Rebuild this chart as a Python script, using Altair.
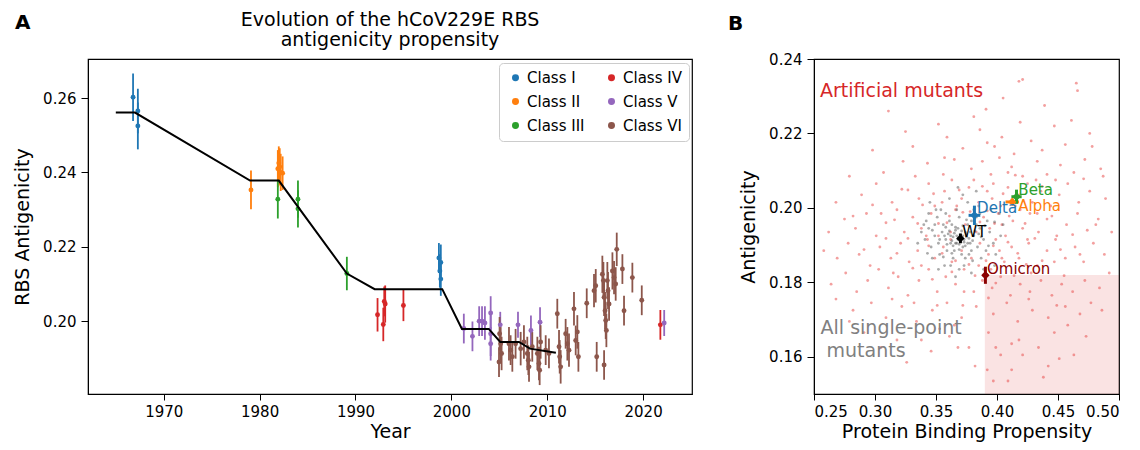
import altair as alt
import pandas as pd

FONT = "DejaVu Sans"

# ---------------- Panel A: antigenicity over time ----------------
class_names = ["Class I", "Class II", "Class III", "Class IV", "Class V", "Class VI"]
class_colors = ["#1f77b4", "#ff7f0e", "#2ca02c", "#d62728", "#9467bd", "#8c564b"]

c1_year = [1966.8, 1967.3, 1967.3, 1998.7, 1998.9, 1998.8, 1998.9]
c1_val = [0.2602, 0.2565, 0.2525, 0.2170, 0.2158, 0.2135, 0.2113]
c1_err = [0.0064, 0.0060, 0.0063, 0.0040, 0.0048, 0.0045, 0.0045]

c2_year = [1979.1, 1981.9, 1982.0, 1982.1, 1982.2, 1982.4]
c2_val = [0.2353, 0.2410, 0.2425, 0.2415, 0.2400, 0.2398]
c2_err = [0.0052, 0.0050, 0.0045, 0.0050, 0.0050, 0.0045]

c3_year = [1981.9, 1984.0, 1984.0, 1989.1]
c3_val = [0.2328, 0.2328, 0.2302, 0.2128]
c3_err = [0.0052, 0.0050, 0.0050, 0.0045]

c4_year = [1992.3, 1992.9, 1993.1, 1993.0, 1995.0, 2021.8]
c4_val = [0.2017, 0.1991, 0.2046, 0.2053, 0.2042, 0.1990]
c4_err = [0.0045, 0.0045, 0.0050, 0.0040, 0.0042, 0.0040]

c5_year = [2001.3, 2002.2, 2002.9, 2003.2, 2003.5, 2004.1, 2004.1, 2004.1,
           2005.1, 2006.95, 2008.3, 2009.25, 2022.2]
c5_val = [0.1980, 0.1959, 0.2000, 0.2000, 0.1995, 0.2022, 0.1966, 0.1939,
          0.1990, 0.1990, 0.1975, 0.1997, 0.1995]
c5_err = [0.0040, 0.0040, 0.0040, 0.0040, 0.0045, 0.0045, 0.0060, 0.0045,
          0.0035, 0.0035, 0.0040, 0.0040, 0.0035]

c6_year = [2005.03, 2005.14, 2005.24, 2004.97, 2006.01, 2006.18, 2006.36, 2006.7,
           2007.23, 2007.57, 2007.92, 2008.03, 2008.1, 2008.44, 2008.97, 2009.14,
           2009.21, 2009.31, 2009.84, 2010.18, 2011.05, 2011.23, 2011.3, 2011.4,
           2011.92, 2012.1, 2012.27, 2012.79, 2012.97, 2013.14, 2013.25, 2014.12,
           2014.88, 2015.06, 2015.16, 2015.75, 2015.86, 2015.93, 2016.03, 2016.1,
           2016.17, 2015.93, 2016.27, 2016.34, 2016.45, 2016.8, 2016.97, 2017.14,
           2017.25, 2017.84, 2018.01, 2018.88, 2019.86]
c6_val = [0.1966, 0.1939, 0.1913, 0.1890, 0.1939, 0.1922, 0.1904, 0.1939,
          0.1926, 0.1944, 0.1913, 0.1895, 0.1877, 0.1931, 0.1913, 0.1886,
          0.1868, 0.1944, 0.1922, 0.1913, 0.2020, 0.1931, 0.1904, 0.1877,
          0.1966, 0.1939, 0.1922, 0.2033, 0.1948, 0.1971, 0.1904, 0.2048,
          0.2082, 0.2095, 0.1904, 0.2126, 0.2109, 0.2064, 0.2028, 0.2002,
          0.1975, 0.1882, 0.2109, 0.2082, 0.2046, 0.2135, 0.2117, 0.2100,
          0.2193, 0.2140, 0.2028, 0.2117, 0.2056]
c6_err = [0.0045, 0.0045, 0.0045, 0.0040, 0.0045, 0.0040, 0.0040, 0.0040,
          0.0045, 0.0045, 0.0045, 0.0040, 0.0040, 0.0040, 0.0045, 0.0045,
          0.0040, 0.0045, 0.0040, 0.0040, 0.0040, 0.0045, 0.0045, 0.0045,
          0.0040, 0.0045, 0.0045, 0.0045, 0.0040, 0.0045, 0.0040, 0.0040,
          0.0045, 0.0045, 0.0040, 0.0050, 0.0050, 0.0050, 0.0050, 0.0050,
          0.0045, 0.0040, 0.0050, 0.0050, 0.0045, 0.0050, 0.0045, 0.0045,
          0.0045, 0.0040, 0.0040, 0.0040, 0.0040]

line_year = [1965.0, 1967.0, 1979.0, 1982.0, 1989.1, 1992.0, 1999.05, 2001.1,
             2003.9, 2005.1, 2007.05, 2008.2, 2010.9]
line_val = [0.2561, 0.2561, 0.2378, 0.2378, 0.2128, 0.2086, 0.2086, 0.1979,
            0.1979, 0.1944, 0.1944, 0.1926, 0.1915]

year_ticks = [1970, 1980, 1990, 2000, 2010, 2020]
antig_ticks_a = [0.20, 0.22, 0.24, 0.26]
title_a = ["Evolution of the hCoV229E RBS", "antigenicity propensity"]

# ---------------- Panel B: antigenicity vs binding ----------------
red_x = [0.311, 0.418, 0.421, 0.465, 0.466, 0.405, 0.391,
         0.386, 0.404, 0.428, 0.447, 0.476, 0.372, 0.359, 0.437, 0.456, 0.398, 0.419, 0.331,
         0.343, 0.356, 0.365, 0.379, 0.388, 0.395, 0.402, 0.412, 0.421, 0.433, 0.441, 0.452,
         0.463, 0.472, 0.485, 0.307, 0.323, 0.333, 0.414, 0.448,
         0.289, 0.301, 0.314, 0.322, 0.336, 0.344, 0.349, 0.357, 0.363, 0.371, 0.377, 0.385,
         0.392, 0.397, 0.403, 0.409, 0.418, 0.425, 0.429, 0.436, 0.444, 0.451, 0.458, 0.467,
         0.476, 0.489, 0.367, 0.396, 0.415, 0.432, 0.355, 0.381,
         0.262, 0.275, 0.284, 0.293, 0.301, 0.309, 0.318, 0.324, 0.331, 0.338, 0.346, 0.352,
         0.359, 0.366, 0.374, 0.383, 0.389, 0.394, 0.401, 0.407, 0.413, 0.421, 0.427, 0.434,
         0.441, 0.449, 0.457, 0.466, 0.474, 0.483, 0.494, 0.378, 0.404, 0.419, 0.342, 0.362,
         0.258, 0.269, 0.278, 0.287, 0.296, 0.304, 0.313, 0.321, 0.328, 0.335, 0.343, 0.349,
         0.356, 0.363, 0.371, 0.379, 0.386, 0.393, 0.399, 0.406, 0.412, 0.418, 0.426, 0.433,
         0.441, 0.448, 0.456, 0.464, 0.471, 0.479, 0.488, 0.385, 0.402, 0.362, 0.338,
         0.264, 0.276, 0.285, 0.294, 0.303, 0.311, 0.319, 0.327, 0.336, 0.344, 0.351, 0.358,
         0.366, 0.373, 0.381, 0.388, 0.396, 0.403, 0.411, 0.419, 0.427, 0.436, 0.445, 0.453,
         0.462, 0.472, 0.484, 0.395, 0.373,
         0.282, 0.297, 0.309, 0.322, 0.334, 0.347, 0.359, 0.371, 0.383, 0.397, 0.408, 0.417,
         0.429, 0.442, 0.456, 0.468, 0.477, 0.365, 0.426,
         0.318, 0.346, 0.361, 0.377, 0.393, 0.403, 0.418, 0.434, 0.447, 0.463, 0.451, 0.412,
         0.397, 0.412, 0.438, 0.392, 0.409,
         0.352, 0.361, 0.372, 0.386, 0.392, 0.398, 0.410, 0.355, 0.366, 0.377, 0.391, 0.397,
         0.409, 0.417, 0.344, 0.335, 0.327, 0.339, 0.348, 0.369, 0.388, 0.405, 0.423, 0.431,
         0.424, 0.414, 0.399, 0.382, 0.363, 0.347, 0.331, 0.318, 0.309, 0.316, 0.327, 0.415,
         0.437, 0.445, 0.452, 0.437, 0.462, 0.471, 0.455, 0.393, 0.372, 0.351, 0.291, 0.282,
         0.298, 0.449,
         0.268, 0.279, 0.291, 0.305, 0.314, 0.326, 0.338, 0.353, 0.368, 0.382, 0.399, 0.421,
         0.442, 0.458, 0.473, 0.486, 0.492, 0.481, 0.487, 0.478, 0.461, 0.439, 0.381, 0.352,
         0.325, 0.298, 0.279, 0.268, 0.305, 0.315, 0.332, 0.425, 0.433, 0.409, 0.392, 0.357,
         0.404, 0.428, 0.447, 0.468]
red_y = [0.2260, 0.2340, 0.2345, 0.2335, 0.2315, 0.2295, 0.2265,
         0.2210, 0.2190, 0.2180, 0.2220, 0.2200, 0.2160, 0.2190, 0.2155, 0.2170, 0.2165, 0.2230, 0.2165,
         0.2120, 0.2090, 0.2130, 0.2105, 0.2125, 0.2090, 0.2135, 0.2110, 0.2085, 0.2125, 0.2090, 0.2115,
         0.2095, 0.2130, 0.2105, 0.2095, 0.2125, 0.2085, 0.2145, 0.2075,
         0.2035, 0.2065, 0.2015, 0.2050, 0.2025, 0.2065, 0.2005, 0.2045, 0.2075, 0.2025, 0.2055, 0.2015,
         0.2045, 0.2065, 0.2005, 0.2055, 0.2035, 0.2065, 0.2015, 0.2045, 0.2005, 0.2035, 0.2065, 0.2015,
         0.2045, 0.2025, 0.2005, 0.2025, 0.2005, 0.2075, 0.2015, 0.2075,
         0.1935, 0.1970, 0.1945, 0.1985, 0.1925, 0.1960, 0.1995, 0.1935, 0.1975, 0.1945, 0.1985, 0.1925,
         0.1960, 0.1995, 0.1955, 0.1935, 0.1975, 0.1945, 0.1985, 0.1925, 0.1965, 0.1945, 0.1985, 0.1935,
         0.1970, 0.1925, 0.1955, 0.1985, 0.1940, 0.1970, 0.1935, 0.1990, 0.1955, 0.1995, 0.1925, 0.1935,
         0.1885, 0.1865, 0.1905, 0.1875, 0.1845, 0.1895, 0.1865, 0.1905, 0.1855, 0.1885, 0.1915, 0.1865,
         0.1895, 0.1855, 0.1885, 0.1865, 0.1905, 0.1875, 0.1915, 0.1855, 0.1895, 0.1865, 0.1905, 0.1845,
         0.1885, 0.1915, 0.1865, 0.1895, 0.1855, 0.1905, 0.1875, 0.1845, 0.1885, 0.1915, 0.1845,
         0.1795, 0.1825, 0.1775, 0.1805, 0.1835, 0.1785, 0.1815, 0.1765, 0.1805, 0.1835, 0.1775, 0.1815,
         0.1795, 0.1835, 0.1775, 0.1805, 0.1785, 0.1815, 0.1765, 0.1795, 0.1775, 0.1805, 0.1765, 0.1795,
         0.1775, 0.1805, 0.1785, 0.1835, 0.1775,
         0.1725, 0.1745, 0.1705, 0.1735, 0.1695, 0.1725, 0.1745, 0.1705, 0.1735, 0.1715, 0.1745, 0.1695,
         0.1725, 0.1705, 0.1735, 0.1715, 0.1745, 0.1685, 0.1755,
         0.1645, 0.1615, 0.1655, 0.1625, 0.1665, 0.1605, 0.1645, 0.1625, 0.1665, 0.1605, 0.1595, 0.1635,
         0.1535, 0.1565, 0.1545, 0.1565, 0.1535,
         0.1958, 0.1978, 0.1988, 0.1962, 0.1992, 0.1958, 0.1978, 0.1878, 0.1858, 0.1848, 0.1858, 0.1898,
         0.1908, 0.1878, 0.1898, 0.1958, 0.1918, 0.2008, 0.2038, 0.2048, 0.2058, 0.2038, 0.1958, 0.1918,
         0.1848, 0.1818, 0.1798, 0.1818, 0.1828, 0.1808, 0.1838, 0.1878, 0.1918, 0.1968, 0.2048, 0.2088,
         0.2058, 0.1978, 0.1888, 0.1858, 0.1928, 0.2078, 0.1818, 0.1758, 0.1738, 0.1738, 0.1888, 0.1978,
         0.2008, 0.1738,
         0.1755, 0.1695, 0.1665, 0.1625, 0.1755, 0.1585, 0.1645, 0.1675, 0.1625, 0.1575, 0.1625, 0.1605,
         0.1575, 0.1685, 0.1655, 0.1725, 0.1825, 0.1955, 0.2085, 0.2165, 0.2235, 0.2275, 0.2245, 0.2225,
         0.2205, 0.2155, 0.2085, 0.2015, 0.1985, 0.1825, 0.1745, 0.1915, 0.1985, 0.2095, 0.2175, 0.2135,
         0.1865, 0.1825, 0.1855, 0.1875]

gray_x = [0.370, 0.366, 0.374, 0.362, 0.378, 0.368, 0.372, 0.358, 0.381, 0.365, 0.376, 0.363,
          0.384, 0.355, 0.371, 0.379, 0.359, 0.386, 0.352, 0.369, 0.374, 0.361, 0.389, 0.349,
          0.377, 0.364, 0.383, 0.356, 0.391, 0.346, 0.367, 0.373, 0.358, 0.387, 0.353, 0.381,
          0.344, 0.394, 0.362, 0.376, 0.351, 0.397, 0.341, 0.369, 0.385, 0.357, 0.392, 0.347,
          0.372, 0.366, 0.399, 0.338, 0.361, 0.389, 0.354, 0.379, 0.344, 0.395, 0.368, 0.371,
          0.367, 0.373, 0.365, 0.375, 0.363, 0.369, 0.371, 0.377, 0.361, 0.374, 0.366, 0.359,
          0.382, 0.364, 0.372, 0.387, 0.357, 0.379, 0.383, 0.349, 0.403, 0.335, 0.398, 0.342,
          0.405, 0.352, 0.383, 0.345, 0.402,
          0.368, 0.370, 0.373, 0.367, 0.375, 0.364, 0.370, 0.372, 0.376, 0.362, 0.378, 0.366,
          0.360, 0.380, 0.369, 0.358, 0.385, 0.353, 0.375, 0.363, 0.390, 0.347, 0.380, 0.356,
          0.393, 0.343, 0.386, 0.350, 0.398, 0.340]
gray_y = [0.1920, 0.1905, 0.1935, 0.1925, 0.1905, 0.1945, 0.1895, 0.1915, 0.1925, 0.1885, 0.1955, 0.1955,
          0.1895, 0.1935, 0.1875, 0.1965, 0.1885, 0.1945, 0.1905, 0.1975, 0.1865, 0.1965, 0.1915, 0.1925,
          0.1875, 0.1865, 0.1975, 0.1955, 0.1885, 0.1895, 0.1995, 0.1845, 0.1985, 0.1865, 0.1875, 0.1995,
          0.1945, 0.1935, 0.1845, 0.2015, 0.1975, 0.1905, 0.1915, 0.1835, 0.2005, 0.1845, 0.1965, 0.1865,
          0.2035, 0.1815, 0.1875, 0.1935, 0.2025, 0.1835, 0.1995, 0.1825, 0.1985, 0.1995, 0.2055, 0.1915,
          0.1925, 0.1908, 0.1932, 0.1922, 0.1912, 0.1902, 0.1938, 0.1918, 0.1938, 0.1898, 0.1948, 0.1902,
          0.1938, 0.1898, 0.1952, 0.1922, 0.1925, 0.1885, 0.1955, 0.1955, 0.1925, 0.1905, 0.1845, 0.1965,
          0.1955, 0.1835, 0.2045, 0.2015, 0.1985,
          0.1915, 0.1928, 0.1915, 0.1905, 0.1930, 0.1922, 0.1910, 0.1925, 0.1905, 0.1905, 0.1935, 0.1940,
          0.1930, 0.1912, 0.1888, 0.1948, 0.1930, 0.1915, 0.1968, 0.1878, 0.1952, 0.1940, 0.1858, 0.1868,
          0.1898, 0.1878, 0.1985, 0.1995, 0.1962, 0.1955]

variants = ["WT", "Delta", "Alpha", "Beta", "Omicron"]
variant_colors = ["#000000", "#1f77b4", "#ff7f0e", "#2ca02c", "#8b0000"]
var_x = [0.3700, 0.3815, 0.4125, 0.4160, 0.3905]
var_y = [0.1918, 0.1980, 0.2016, 0.2030, 0.1819]
var_xerr = [0.0022, 0.0048, 0.0055, 0.0042, 0.0022]
var_yerr = [0.0013, 0.0026, 0.0009, 0.0019, 0.0023]
var_label_x = [0.3716, 0.3837, 0.4175, 0.4175, 0.3918]
var_label_y = [0.1936, 0.1999, 0.2005, 0.2048, 0.1837]

window_x = [0.39, 0.50]
window_y = [0.15, 0.182]

bind_ticks = [0.25, 0.30, 0.35, 0.40, 0.45, 0.50]
antig_ticks_b = [0.16, 0.18, 0.20, 0.22, 0.24]

note_text = ["Artificial mutants", "All single-point", "mutants"]
note_x = [0.2549, 0.2554, 0.2603]
note_y = [0.2315, 0.1678, 0.1616]
note_color = ["#d62728", "#808080", "#808080"]

# ---------------- build tables ----------------
rows = []
for name, yrs, vals, errs in zip(
        class_names,
        [c1_year, c2_year, c3_year, c4_year, c5_year, c6_year],
        [c1_val, c2_val, c3_val, c4_val, c5_val, c6_val],
        [c1_err, c2_err, c3_err, c4_err, c5_err, c6_err]):
    for yr, v, e in zip(yrs, vals, errs):
        rows.append({"year": yr, "val": v, "lo": v - e, "hi": v + e, "cls": name})
df_a = pd.DataFrame(rows)
df_line = pd.DataFrame({"year": line_year, "val": line_val})

cls_scale = alt.Scale(domain=class_names, range=class_colors)

W_A, H_A = 604, 335
xs_a = alt.Scale(domain=[1962.1, 2025.1], nice=False, zero=False)
ys_a = alt.Scale(domain=[0.1804, 0.2705], nice=False, zero=False)
x_a = alt.X("year:Q", scale=xs_a,
            axis=alt.Axis(values=year_ticks, format="d", title="Year", grid=False))
y_a = alt.Y("val:Q", scale=ys_a,
            axis=alt.Axis(values=antig_ticks_a, format=".2f", title="RBS Antigenicity", grid=False))

err_a = alt.Chart(df_a).mark_rule(strokeWidth=1.8).encode(
    x=alt.X("year:Q", scale=xs_a),
    y=alt.Y("lo:Q", scale=ys_a),
    y2="hi:Q",
    color=alt.Color("cls:N", scale=cls_scale),
)
pts_a = alt.Chart(df_a).mark_circle(size=24, opacity=1).encode(
    x=x_a, y=y_a,
    color=alt.Color("cls:N", scale=cls_scale,
                    legend=alt.Legend(title=None, orient="none", legendX=411, legendY=4,
                                      columns=2, symbolType="circle", symbolSize=30,
                                      labelFontSize=15, labelFont=FONT, columnPadding=17,
                                      rowPadding=8, padding=7, strokeColor="#cccccc",
                                      fillColor="white", cornerRadius=4, symbolOffset=2)),
)
line_a = alt.Chart(df_line).mark_line(color="black", strokeWidth=2).encode(
    x=alt.X("year:Q", scale=xs_a), y=alt.Y("val:Q", scale=ys_a))

letter_a = alt.Chart(pd.DataFrame({"t": ["A"]})).mark_text(
    align="left", baseline="alphabetic", fontSize=20, fontWeight="bold", font=FONT, color="black"
).encode(x=alt.value(-73), y=alt.value(-30), text="t:N")
title_a1 = alt.Chart(pd.DataFrame({"t": [title_a[0]]})).mark_text(
    align="center", baseline="alphabetic", fontSize=19, font=FONT, color="black"
).encode(x=alt.value(W_A / 2), y=alt.value(-33), text="t:N")
title_a2 = alt.Chart(pd.DataFrame({"t": [title_a[1]]})).mark_text(
    align="center", baseline="alphabetic", fontSize=19, font=FONT, color="black"
).encode(x=alt.value(W_A / 2), y=alt.value(-13), text="t:N")

panel_a = alt.layer(err_a, pts_a, line_a, letter_a, title_a1, title_a2).properties(
    width=W_A, height=H_A)

# ---- panel B ----
df_red = pd.DataFrame({"x": red_x, "y": red_y})
df_gray = pd.DataFrame({"x": gray_x, "y": gray_y})
df_var = pd.DataFrame({
    "name": variants, "col": variant_colors, "x": var_x, "y": var_y,
    "xlo": [a - b for a, b in zip(var_x, var_xerr)], "xhi": [a + b for a, b in zip(var_x, var_xerr)],
    "ylo": [a - b for a, b in zip(var_y, var_yerr)], "yhi": [a + b for a, b in zip(var_y, var_yerr)],
    "lx": var_label_x, "ly": var_label_y,
})
df_win = pd.DataFrame({"x": [window_x[0]], "x2": [window_x[1]], "y": [window_y[0]], "y2": [window_y[1]]})
df_note = pd.DataFrame({"t": note_text, "x": note_x, "y": note_y, "c": note_color})

W_B, H_B = 305, 335
xs_b = alt.Scale(domain=[0.25, 0.50], nice=False, zero=False)
ys_b = alt.Scale(domain=[0.15, 0.24], nice=False, zero=False)
x_b = alt.X("x:Q", scale=xs_b, axis=alt.Axis(values=bind_ticks, format=".2f",
                                             title="Protein Binding Propensity", grid=False))
y_b = alt.Y("y:Q", scale=ys_b, axis=alt.Axis(values=antig_ticks_b, format=".2f",
                                             title="Antigenicity", grid=False))
vcolor = alt.Color("col:N", scale=None)

win = alt.Chart(df_win).mark_rect(color="#d62728", opacity=0.13).encode(
    x=x_b, x2="x2:Q", y=y_b, y2="y2:Q")
red = alt.Chart(df_red).mark_circle(size=8, color="#e8413f", opacity=0.5).encode(x=x_b, y=y_b)
gray = alt.Chart(df_gray).mark_circle(size=8, color="#444444", opacity=0.45).encode(x=x_b, y=y_b)
hbar = alt.Chart(df_var).mark_rule(strokeWidth=3).encode(
    x=alt.X("xlo:Q", scale=xs_b), x2="xhi:Q", y=alt.Y("y:Q", scale=ys_b), color=vcolor)
vbar = alt.Chart(df_var).mark_rule(strokeWidth=3).encode(
    x=alt.X("x:Q", scale=xs_b), y=alt.Y("ylo:Q", scale=ys_b), y2="yhi:Q", color=vcolor)
marks = alt.Chart(df_var).mark_point(shape="diamond", filled=True, size=70, opacity=1).encode(
    x=alt.X("x:Q", scale=xs_b), y=alt.Y("y:Q", scale=ys_b), color=vcolor)
labels = alt.Chart(df_var).mark_text(align="left", baseline="middle", fontSize=15, font=FONT).encode(
    x=alt.X("lx:Q", scale=xs_b), y=alt.Y("ly:Q", scale=ys_b), text="name:N", color=vcolor)
notes = alt.Chart(df_note).mark_text(align="left", baseline="middle", fontSize=19, font=FONT).encode(
    x=alt.X("x:Q", scale=xs_b), y=alt.Y("y:Q", scale=ys_b), text="t:N",
    color=alt.Color("c:N", scale=None))
letter_b = alt.Chart(pd.DataFrame({"t": ["B"]})).mark_text(
    align="left", baseline="alphabetic", fontSize=20, fontWeight="bold", font=FONT, color="black"
).encode(x=alt.value(-86), y=alt.value(-29), text="t:N")

panel_b = alt.layer(win, red, gray, hbar, vbar, marks, labels, notes, letter_b).properties(
    width=W_B, height=H_B)

chart = alt.hconcat(panel_a, panel_b, spacing=34).resolve_scale(
    color="independent"
).resolve_legend(color="independent").properties(
    padding={"left": 5, "top": 2, "right": 0, "bottom": 0}
).configure(font=FONT).configure_view(
    stroke="black", strokeWidth=1.2
).configure_axis(
    labelFont=FONT, titleFont=FONT, labelFontSize=15, titleFontSize=19,
    labelColor="black", titleColor="black", domainColor="black", tickColor="black",
    titleFontWeight="normal",
).configure_axisX(
    tickSize=6, labelPadding=4, titlePadding=3,
).configure_axisY(
    tickSize=7, labelPadding=5, titlePadding=10,
)

chart.save("out.html", embed_options={"renderer": "svg", "actions": False})
